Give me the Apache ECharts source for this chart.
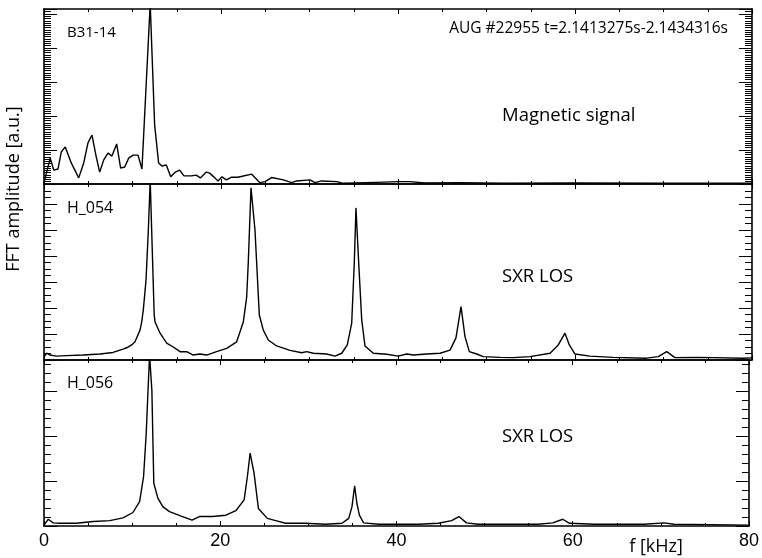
<!DOCTYPE html>
<html><head><meta charset="utf-8">
<script src="https://cdn.jsdelivr.net/npm/echarts@6/dist/echarts.min.js"></script>
<style>html,body{margin:0;padding:0;background:#fff}#c{width:762px;height:558px}</style>
</head><body><div id="c"></div>
<script>
// Panel 1: magnetic signal B31-14
const magFreq = [0,0.7,1.1,1.58,1.95,2.4,3.08,3.92,4.49,4.97,5.42,5.91,6.29,6.75,7.23,7.68,8.21,8.66,9.12,9.57,10.06,10.62,11.07,12.0,12.5,12.95,13.33,13.82,14.32,14.84,15.33,15.82,16.64,17.21,17.66,18.34,18.72,19.18,19.66,20.11,20.6,21.2,21.9,23.47,24.4,24.97,25.73,27.04,27.99,28.55,30.06,30.62,31.38,33.07,33.82,36.46,40.23,41.36,43,47,52,60,70,80];
const magAmp  = [0.03,0.76,0.41,0.44,0.94,1.09,0.62,0.18,0.62,1.21,1.44,0.79,0.35,0.71,0.91,0.82,1.18,0.47,0.5,0.76,0.85,0.85,0.44,5.3,1.74,0.62,0.53,0.56,0.21,0.35,0.41,0.24,0.24,0.26,0.18,0.35,0.32,0.21,0.09,0.21,0.12,0.2,0.2,0.29,0.04,0.07,0.19,0.12,0.04,0.09,0.12,0.04,0.09,0.07,0.02,0.04,0.07,0.07,0.03,0.04,0.02,0.03,0.02,0.02];
// Panel 2: SXR H_054
const h054Freq = [0,0.3,0.68,1.43,2.56,4.4,6.33,7.8,8.93,9.34,9.9,10.28,10.47,10.85,11.04,11.22,11.53,11.79,12.0,12.45,12.54,13.1,13.86,14.6,15.37,16.12,16.87,17.6,18.38,19.5,20.64,21.77,22.52,22.9,23.08,23.39,23.84,24.33,24.78,25.34,26.29,27.8,29.12,29.68,30.43,31.94,32.88,33.64,34.27,34.77,35.06,35.25,35.56,35.9,36.27,37.21,38.72,40.03,40.98,41.73,43.24,44.75,45.88,46.55,47.12,47.57,48.06,48.89,49.64,51.53,53.03,54.92,57.18,58.11,58.87,59.36,60.0,61.69,64.29,68.1,69.41,70.36,71.3,73.75,75.6,79.0,80];
const h054Amp  = [0.12,0.26,0.19,0.15,0.17,0.19,0.23,0.29,0.42,0.47,0.58,0.7,0.77,1.15,1.47,1.92,3.08,5.0,6.9,1.75,1.47,1.04,0.65,0.5,0.32,0.32,0.19,0.23,0.19,0.32,0.45,0.7,1.46,2.42,3.73,6.62,5.0,1.73,1.15,0.77,0.54,0.37,0.28,0.32,0.26,0.23,0.15,0.26,0.58,1.42,3.73,5.85,3.73,1.54,0.54,0.26,0.22,0.15,0.23,0.19,0.23,0.26,0.38,0.85,2.05,0.9,0.32,0.23,0.13,0.1,0.09,0.13,0.26,0.58,1.03,0.58,0.23,0.15,0.1,0.07,0.13,0.32,0.09,0.1,0.09,0.07,0.08];
// Panel 3: SXR H_056
const h056Freq = [0,0.11,0.49,1.05,1.81,3.69,5.57,7.46,8.96,10.09,10.85,11.3,11.6,11.79,11.98,12.24,12.46,12.92,13.48,14.24,15.56,16.8,17.63,19.13,20.64,21.77,22.71,23.08,23.39,23.84,24.33,25.34,26.29,27.42,29.68,31.94,33.82,34.58,34.95,35.25,35.51,35.79,36.27,37.97,40.23,42.49,44.75,46.25,47.08,47.94,49.27,51.53,53.0,56.05,57.74,58.87,59.63,62.45,68.1,70.36,71.49,75.6,80];
const h056Amp  = [0.02,0.01,0.15,0.07,0.06,0.06,0.1,0.12,0.18,0.3,0.54,1.1,2.06,2.95,3.8,3.02,0.95,0.62,0.43,0.32,0.22,0.13,0.21,0.21,0.24,0.34,0.58,1.1,1.62,1.17,0.39,0.17,0.12,0.06,0.06,0.04,0.06,0.17,0.43,0.89,0.5,0.24,0.07,0.04,0.04,0.04,0.06,0.12,0.21,0.07,0.04,0.04,0.04,0.04,0.07,0.15,0.06,0.04,0.04,0.07,0.04,0.03,0.02];

const xTicks = ['0','20','40','60','80'];
const panelLabels = ['B31-14','H_054','H_056'];
const panelNotes = ['Magnetic signal','SXR LOS','SXR LOS'];
const shotText = 'AUG #22955 t=2.1413275s-2.1434316s';
const yTitle = 'FFT amplitude [a.u.]';
const xTitle = 'f [kHz]';

const L = 44, W = 708;
const panels = [
  {top: 9,   height: 175, max: 175/34, minor: 1/15, freq: magFreq, amp: magAmp},
  {top: 184, height: 176, max: 176/26, minor: 1/4,  freq: h054Freq, amp: h054Amp},
  {top: 360, height: 166, max: 166/45, minor: 1/5,  freq: h056Freq, amp: h056Amp}
];
const black = '#000';
const grid = [], xAxis = [], yAxis = [], series = [];
panels.forEach((p, g) => {
  grid.push({left: L, top: p.top, width: W, height: p.height, containLabel: false});
  ['bottom','top'].forEach(pos => {
    xAxis.push({
      type: 'value', gridIndex: g, position: pos, min: 0, max: 80, interval: 20,
      axisLine: {show: true, onZero: false, lineStyle: {color: black, width: 1.6}},
      axisTick: {show: true, inside: true, length: 5, lineStyle: {color: black, width: 1}},
      minorTick: {show: true, splitNumber: 4, length: 3, lineStyle: {color: black, width: 1}},
      splitLine: {show: false}, minorSplitLine: {show: false},
      axisLabel: {show: g === 2 && pos === 'bottom', margin: 6, color: black,
        fontFamily: 'Liberation Sans', fontSize: 18,
        formatter: v => xTicks[Math.round(v / 20)] || ''}
    });
  });
  ['left','right'].forEach(pos => {
    yAxis.push({
      type: 'value', gridIndex: g, position: pos, min: 0, max: p.max, interval: 1,
      axisLine: {show: true, onZero: false, lineStyle: {color: black, width: 1.6}},
      axisTick: {show: true, inside: true, length: 13, lineStyle: {color: black, width: 1}},
      splitLine: {show: false}, axisLabel: {show: false}
    });
    yAxis.push({
      type: 'value', gridIndex: g, position: pos, min: 0, max: p.max, interval: p.minor,
      axisLine: {show: false, onZero: false},
      axisTick: {show: true, inside: true, length: 7, lineStyle: {color: black, width: 1}},
      splitLine: {show: false}, axisLabel: {show: false}
    });
  });
  series.push({
    type: 'line', xAxisIndex: 2 * g, yAxisIndex: 4 * g,
    data: p.freq.map((f, i) => [f, p.amp[i]]),
    showSymbol: false, symbol: 'none', clip: true,
    lineStyle: {color: black, width: 1.4}, silent: true
  });
});

const txtFont = '"Open Sans"';
function txt(text, x, y, size, align, rot) {
  return {type: 'text', x: x, y: y, rotation: rot || 0,
    style: {text: text, fill: black, font: size + 'px ' + txtFont, textAlign: align, textVerticalAlign: 'middle'}};
}
const graphic = [
  txt(panelLabels[0], 67, 33, 15, 'left'),
  txt(shotText, 728, 29, 15.5, 'right'),
  txt(panelNotes[0], 502, 116, 18.5, 'left'),
  txt(panelLabels[1], 67, 208, 16, 'left'),
  txt(panelNotes[1], 502, 277, 18.5, 'left'),
  txt(panelLabels[2], 67, 383, 16, 'left'),
  txt(panelNotes[2], 502, 437, 18.5, 'left'),
  txt(xTitle, 656, 547, 18, 'center'),
  txt(yTitle, 14, 189, 18, 'center', Math.PI / 2)
];

const chart = echarts.init(document.getElementById('c'), null, {renderer: 'canvas'});
chart.setOption({
  backgroundColor: '#fff', animation: false,
  grid: grid, xAxis: xAxis, yAxis: yAxis, series: series, graphic: graphic
});
</script></body></html>
